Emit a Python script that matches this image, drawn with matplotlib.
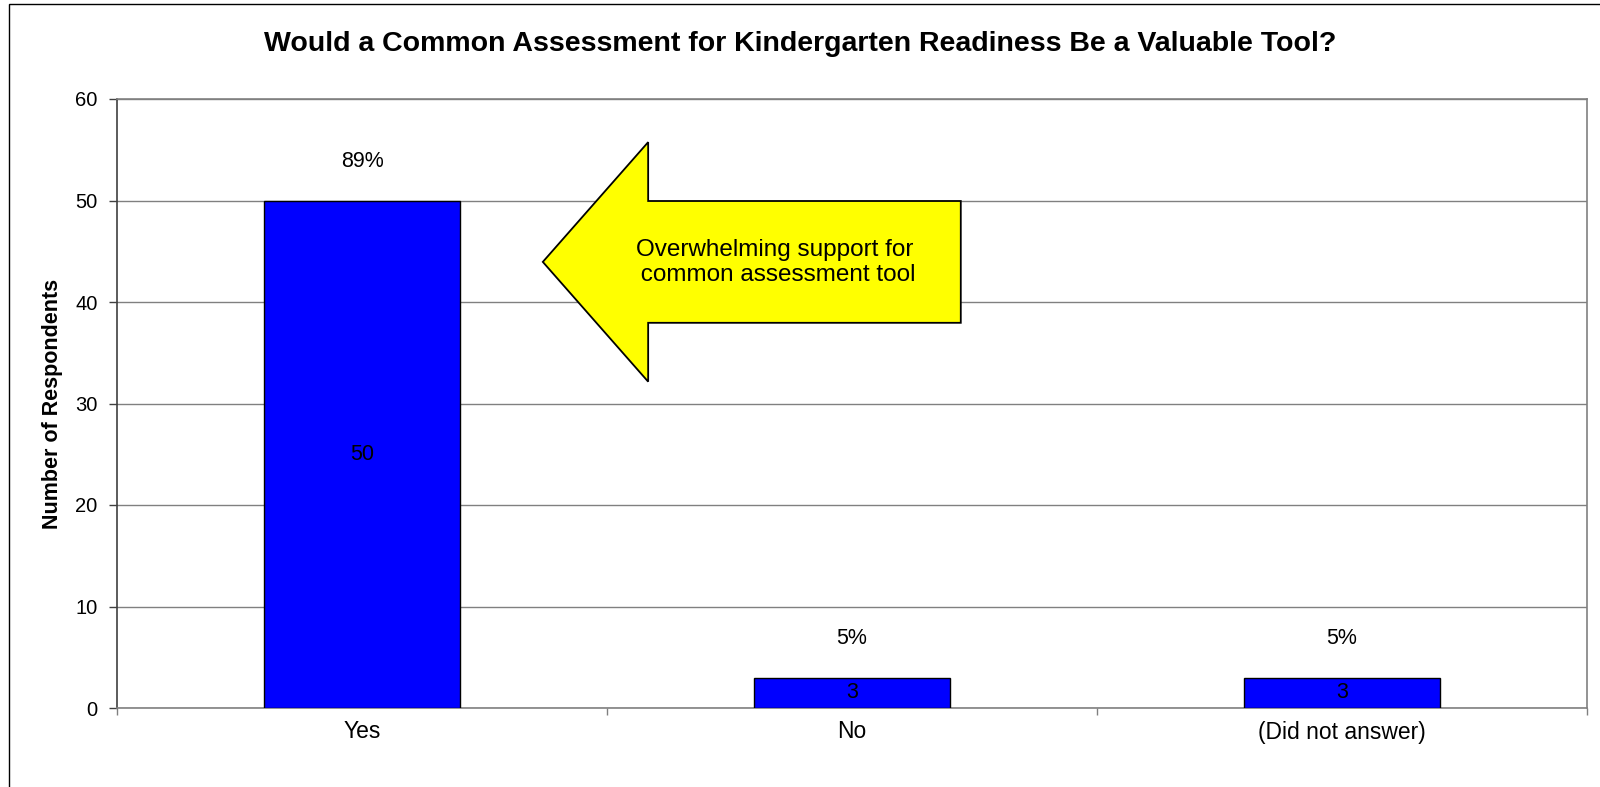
import numpy as np
import matplotlib
matplotlib.use('Agg')
import matplotlib.pyplot as plt
from matplotlib.patches import Rectangle, FancyArrow

plt.rcParams['font.family'] = ['Liberation Sans', 'DejaVu Sans']

# data
categories = ['Yes', 'No', '(Did not answer)']
counts = [50, 3, 3]
percent_labels = ['89%', '5%', '5%']

title = 'Would a Common Assessment for Kindergarten Readiness Be a Valuable Tool?'
callout = 'Overwhelming support for\n common assessment tool'

fig = plt.figure(figsize=(16, 7.87), dpi=100)
ax = fig.add_axes([117 / 1600, 79 / 787, 1470 / 1600, 609 / 787])

x = np.arange(len(categories))
ax.bar(x, counts, width=0.4, color='#0000ff', edgecolor='black', linewidth=1.0, zorder=3)

for xi, c, p in zip(x, counts, percent_labels):
    ax.text(xi, c / 2, str(c), ha='center', va='center', fontsize=15.5, zorder=4)
    ax.text(xi, c + 3.8, p, ha='center', va='center', fontsize=15.5, zorder=4)

ax.set_xlim(-0.5, len(categories) - 0.5)
ax.set_ylim(0, 60)
ax.set_yticks(np.arange(0, 61, 10))
ax.yaxis.grid(True, color='#808080', linewidth=1)
ax.set_axisbelow(True)
ax.tick_params(axis='y', labelsize=14.5, length=6, width=1, color='#404040', pad=8)

ax.set_xticks(x)
ax.set_xticklabels(categories, fontsize=16.5)
ax.set_xticks(np.arange(-0.5, len(categories)), minor=True)
ax.tick_params(axis='x', which='major', length=0, pad=9)
ax.tick_params(axis='x', which='minor', length=5, width=1, color='#808080')

for side in ['top', 'right', 'bottom']:
    ax.spines[side].set_color('#808080')
    ax.spines[side].set_linewidth(1.2)
ax.spines['left'].set_color('#404040')
ax.spines['left'].set_linewidth(1.2)

ax.set_ylabel('Number of Respondents', fontsize=15.5, fontweight='bold',
              family=['Liberation Sans Narrow', 'Liberation Sans'], labelpad=9)

# callout arrow
arrow = FancyArrow(1.222, 43.95, -0.853, 0, width=12, head_width=23.6, head_length=0.215,
                   length_includes_head=True, facecolor='#ffff00', edgecolor='black',
                   linewidth=1.3, zorder=5)
ax.add_patch(arrow)
ax.text(0.843, 43.9, callout, ha='center', va='center', fontsize=17.5, zorder=6)

fig.text(0.5, 1 - 44 / 787, title, ha='center', va='center', fontsize=20.5, fontweight='bold')

# outer chart frame
fig.patches.append(Rectangle((9 / 1600, -0.05), 1.2, 1 - 4 / 787 + 0.05, transform=fig.transFigure,
                             fill=False, edgecolor='black', linewidth=1.0))

fig.savefig('out.png', dpi=100)
